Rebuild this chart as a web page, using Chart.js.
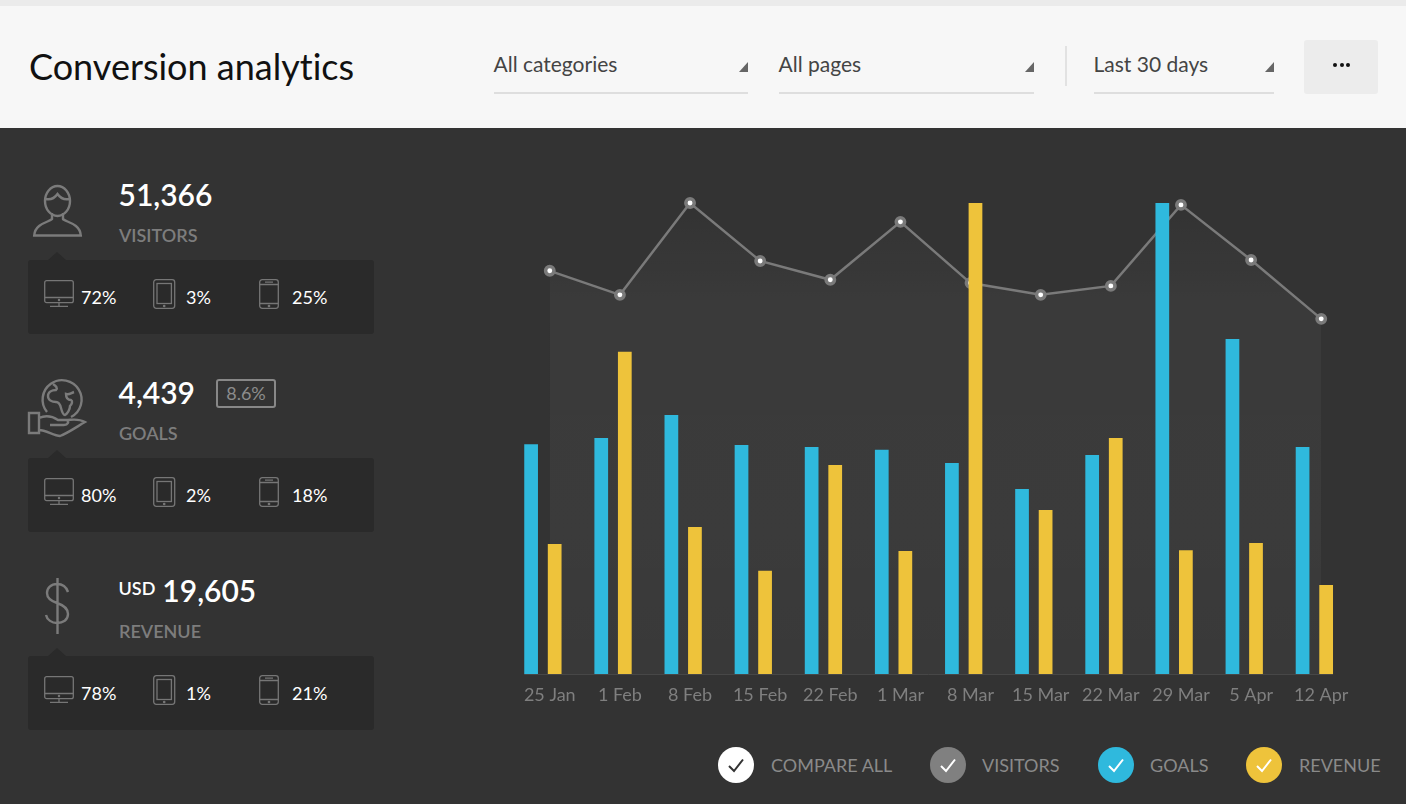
<!DOCTYPE html>
<html>
<head>
<meta charset="utf-8">
<title>Conversion analytics</title>
<script src="https://cdn.jsdelivr.net/npm/chart.js@4"></script>
<style>
  html, body { margin: 0; padding: 0; }
  body { width: 1406px; height: 804px; overflow: hidden; background: #333; font-family: Lato, sans-serif; position: relative; font-variant-ligatures: none; }
  .abs { position: absolute; white-space: nowrap; }
  #strip { left: 0; top: 0; width: 1406px; height: 6px; background: #ebebeb; }
  #header { left: 0; top: 6px; width: 1406px; height: 122px; background: #f7f7f7; }
  #title { left: 29px; top: 44px; font-size: 36px; line-height: 44px; color: #111; }
  .select-label { top: 50px; font-size: 21px; line-height: 28px; color: #444; }
  .select-line { top: 92px; height: 2px; background: #dedede; }
  .select-arrow { top: 62px; width: 0; height: 0; border-left: 9px solid transparent; border-bottom: 10px solid #666; }
  #sep { left: 1064.5px; top: 46px; width: 2px; height: 40px; background: #e2e2e2; }
  #more { left: 1304px; top: 40px; width: 74px; height: 54px; background: #ececec; border-radius: 3px; }
  #more i { position: absolute; top: 23px; width: 4px; height: 4px; border-radius: 50%; background: #111; }
  .kpi-value { left: 118.5px; font-size: 30px; line-height: 36px; color: #fff; font-weight: 600; }
  .kpi-value small { font-size: 18px; position: relative; top: -7px; margin-right: 7px; font-weight: 600; }
  .kpi-label { left: 119px; font-size: 18px; line-height: 24px; color: #7d7d7d; font-weight: 600; }
  .kpi-panel { left: 28px; width: 346px; height: 74px; background: #2a2a2a; border-radius: 3px; }
  .kpi-notch { left: 48px; width: 0; height: 0; border-left: 9px solid transparent; border-right: 9px solid transparent; border-bottom: 8px solid #2a2a2a; }
  .kpi-pct { font-size: 18px; line-height: 24px; color: #fff; }
  #badge { left: 216px; top: 379px; width: 56px; height: 25px; border: 2px solid #888; border-radius: 3px; font-size: 18px; line-height: 25px; text-align: center; color: #8c8c8c; }
  .legend-dot { top: 747px; width: 36px; height: 36px; border-radius: 50%; }
  .legend-text { top: 753px; font-size: 18px; line-height: 24px; color: #8a8a8a; }
  svg { position: absolute; overflow: visible; fill: none; }
  #chart { position: absolute; left: 507px; top: 183px; }
</style>
</head>
<body>
<div class="abs" id="strip"></div>
<div class="abs" id="header"></div>
<div class="abs" id="title">Conversion analytics</div>
<div class="abs" id="sep"></div>
<div class="abs" id="more"><i style="left:29px"></i><i style="left:35.5px"></i><i style="left:42px"></i></div>
<div class="abs" id="badge">8.6%</div>
<canvas id="chart" width="857" height="531"></canvas>

<script>
var dateLabels = ['25 Jan', '1 Feb', '8 Feb', '15 Feb', '22 Feb', '1 Mar', '8 Mar', '15 Mar', '22 Mar', '29 Mar', '5 Apr', '12 Apr'];
var visitorsValues = [85.6, 80.5, 100, 87.7, 83.7, 96, 83, 80.5, 82.4, 99.6, 87.9, 75.4];
var goalsValues = [48.8, 50.1, 55, 48.6, 48.2, 47.6, 44.8, 39.3, 46.5, 100, 71.1, 48.2];
var revenueValues = [27.6, 68.4, 31.2, 21.9, 44.4, 26.1, 100, 34.8, 50.1, 26.3, 27.8, 18.9];

var selectLabels = ['All categories', 'All pages', 'Last 30 days'];
var kpiValues = ['51,366', '4,439', '19,605'];
var kpiNames = ['VISITORS', 'GOALS', 'REVENUE'];
var kpiShares = [['72%', '3%', '25%'], ['80%', '2%', '18%'], ['78%', '1%', '21%']];
var legendNames = ['COMPARE ALL', 'VISITORS', 'GOALS', 'REVENUE'];
var legendColors = ['#ffffff', '#808080', '#2fb9dd', '#eec33b'];

var BLUE = '#2fb9dd', YELLOW = '#eec33b', GREY = '#7a7a7a';

function add(html) {
  document.body.insertAdjacentHTML('beforeend', html);
}

// header dropdowns
var selectBoxes = [[494, 254], [779, 255], [1094, 180]];
selectBoxes.forEach(function (b, i) {
  add('<div class="abs select-label" style="left:' + (b[0] - 0.5) + 'px">' + selectLabels[i] + '</div>');
  add('<div class="abs select-line" style="left:' + b[0] + 'px;width:' + b[1] + 'px"></div>');
  add('<div class="abs select-arrow" style="left:' + (b[0] + b[1] - 9) + 'px"></div>');
});

// left column icons
var monitorIcon = '<rect x="0.7" y="0.7" width="28.6" height="22" rx="2"/><path d="M0.7 17.5H29.3M15 22.7V26M6 26.3H24"/><circle cx="15" cy="20.1" r="0.6"/>';
var tabletIcon = '<rect x="0.7" y="0.7" width="21" height="28.6" rx="2.5"/><rect x="4" y="4.5" width="14.4" height="20" /><circle cx="11.2" cy="27" r="0.7"/>';
var phoneIcon = '<rect x="0.7" y="0.7" width="18.6" height="28.6" rx="2.5"/><path d="M0.7 5.5H19.3M0.7 24.5H19.3M6 3.2H14"/><circle cx="10" cy="27" r="0.7"/>';
var personIcon = '<ellipse cx="24.5" cy="16" rx="12.5" ry="15"/><path d="M12.5 14C17 15 21 14 24.5 9C28 14 32 15 36.5 14M19 28V34C17 37 2 38 1.2 50.5H47.8C47 38 32 37 30 34V28"/>';
var globeIcon = '<path d="M19 32A19.5 19.5 0 1 1 43 37"/><path d="M25 4C28 6 30 8 28 10C24 10 20 12 20 16C20 20 24 22 28 22C31 22 32 24 33 28C34 32 35 35 37 35C39 34 42 30 42 26C44 24 45 21 43 20C40 20 38 18 38 14C41 15 43 13 46 12"/><path d="M1 33H11V53H1ZM11 38C18 35 24 36 30 40H39C41 42 40 45 36 45H22M38 40C44 40 50 38 57 42C50 46 40 53 32 56C26 56 18 50 11 50"/>';
var dollarIcon = '<path d="M23 14C21 8 16 6 12 6C6 6 2 10 2 15C2 20 6 23 12 25C18 27 23 30 23 36C23 42 18 45 12 45C7 45 2 42 1 37M12.5 0V56"/>';

var kpiIcons = [
  { svg: personIcon, x: 33, y: 185, w: 49, h: 52 },
  { svg: globeIcon, x: 28, y: 380, w: 58, h: 57 },
  { svg: dollarIcon, x: 45, y: 578, w: 25, h: 56 }
];

kpiValues.forEach(function (v, i) {
  var top = 198 * i;
  var prefix = i === 2 ? '<small>USD</small>' : '';
  add('<div class="abs kpi-value" style="top:' + (176 + top) + 'px">' + prefix + v + '</div>');
  add('<div class="abs kpi-label" style="top:' + (223 + top) + 'px">' + kpiNames[i] + '</div>');
  add('<div class="abs kpi-notch" style="top:' + (252 + top) + 'px"></div>');
  add('<div class="abs kpi-panel" style="top:' + (260 + top) + 'px"></div>');
  var ic = kpiIcons[i];
  add('<svg style="left:' + ic.x + 'px;top:' + ic.y + 'px" width="' + ic.w + '" height="' + ic.h + '" stroke="#7b7b7b" stroke-width="2.4">' + ic.svg + '</svg>');
  add('<svg style="left:44px;top:' + (280 + top) + 'px" width="30" height="27" stroke="#767676" stroke-width="1.3">' + monitorIcon + '</svg>');
  add('<svg style="left:153px;top:' + (279 + top) + 'px" width="22" height="30" stroke="#767676" stroke-width="1.3">' + tabletIcon + '</svg>');
  add('<svg style="left:259px;top:' + (279 + top) + 'px" width="20" height="30" stroke="#767676" stroke-width="1.3">' + phoneIcon + '</svg>');
  var pctLeft = [81, 186, 292];
  kpiShares[i].forEach(function (p, j) {
    add('<div class="abs kpi-pct" style="left:' + pctLeft[j] + 'px;top:' + (285 + top) + 'px">' + p + '</div>');
  });
});

// legend under the chart
var legendDotLeft = [718, 930, 1098, 1246];
var legendTextLeft = [771, 982, 1150, 1299];
legendNames.forEach(function (name, i) {
  var stroke = i === 0 ? '#333' : '#fff';
  add('<div class="abs legend-dot" style="left:' + legendDotLeft[i] + 'px;background:' + legendColors[i] + '"></div>');
  add('<svg style="left:' + legendDotLeft[i] + 'px;top:747px" width="36" height="36" stroke="' + stroke + '" stroke-width="2"><path d="M11 19L16 24L25 12.5"/></svg>');
  add('<div class="abs legend-text" style="left:' + legendTextLeft[i] + 'px">' + name + '</div>');
});

// thin baseline, only as wide as the bars
var baselinePlugin = {
  id: 'baseline',
  afterDatasetsDraw: function (chart) {
    var first = chart.getDatasetMeta(1).data[0];
    var last = chart.getDatasetMeta(2).data[dateLabels.length - 1];
    var y = chart.scales.y.getPixelForValue(0);
    var c = chart.ctx;
    c.save();
    c.strokeStyle = '#474747';
    c.lineWidth = 1;
    c.beginPath();
    c.moveTo(first.x - first.width / 2, y + 0.5);
    c.lineTo(last.x + last.width / 2, y + 0.5);
    c.stroke();
    c.restore();
  }
};

function areaFill(ctx) {
  var area = ctx.chart.chartArea;
  if (!area) return 'transparent';
  var g = ctx.chart.ctx.createLinearGradient(0, area.top, 0, area.bottom);
  g.addColorStop(0, 'rgba(255,255,255,0)');
  g.addColorStop(0.2, 'rgba(255,255,255,0.035)');
  g.addColorStop(0.7, 'rgba(255,255,255,0.04)');
  g.addColorStop(1, 'rgba(255,255,255,0.03)');
  return g;
}

Chart.defaults.font.family = 'Lato, sans-serif';

new Chart(document.getElementById('chart'), {
  data: {
    labels: dateLabels,
    datasets: [
      {
        type: 'line',
        label: 'Visitors',
        data: visitorsValues,
        order: 2,
        clip: false,
        borderColor: GREY,
        borderWidth: 2.5,
        tension: 0,
        fill: 'origin',
        backgroundColor: areaFill,
        pointRadius: 4.2,
        pointBorderWidth: 3.5,
        pointBorderColor: GREY,
        pointBackgroundColor: '#fff'
      },
      // the bar pair sits left of the date label, so each set gets its own percentages
      {
        type: 'bar',
        label: 'Goals',
        data: goalsValues,
        order: 1,
        backgroundColor: BLUE,
        categoryPercentage: 1.064,
        barPercentage: 0.368
      },
      {
        type: 'bar',
        label: 'Revenue',
        data: revenueValues,
        order: 1,
        backgroundColor: YELLOW,
        categoryPercentage: 0.28,
        barPercentage: 1.4
      }
    ]
  },
  options: {
    responsive: false,
    animation: false,
    devicePixelRatio: 1,
    layout: { padding: { top: 20 } },
    plugins: { legend: { display: false }, tooltip: { enabled: false } },
    scales: {
      x: {
        type: 'category',
        offset: true,
        grid: { display: false },
        border: { display: false },
        afterFit: function (axis) {
          axis.height = 40;
          axis.paddingLeft = 0;
          axis.paddingRight = 0;
        },
        ticks: {
          autoSkip: false,
          maxRotation: 0,
          padding: 2,
          color: '#7f7f7f',
          font: { size: 18 }
        }
      },
      y: { display: false, min: 0, max: 100 }
    }
  },
  plugins: [baselinePlugin]
});
</script>
</body>
</html>
